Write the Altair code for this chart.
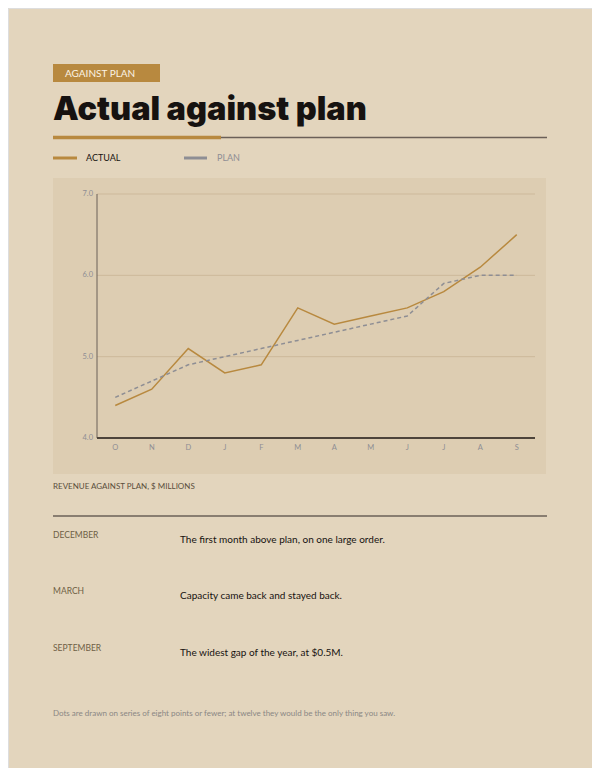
import altair as alt
import pandas as pd

months = ["Oct", "Nov", "Dec", "Jan", "Feb", "Mar", "Apr", "May", "Jun", "Jul", "Aug", "Sep"]
actual = [4.4, 4.6, 5.1, 4.8, 4.9, 5.6, 5.4, 5.5, 5.6, 5.8, 6.1, 6.5]
plan = [4.5, 4.7, 4.9, 5.0, 5.1, 5.2, 5.3, 5.4, 5.5, 5.9, 6.0, 6.0]
y_ticks = [4, 5, 6, 7]
notes_month = ["DECEMBER", "MARCH", "SEPTEMBER"]
notes_text = [
    "The first month above plan, on one large order.",
    "Capacity came back and stayed back.",
    "The widest gap of the year, at $0.5M.",
]

BG = "#e3d5bd"
PANEL = "#ddcdb2"
GOLD = "#b8893f"
GREY = "#8e8e94"
DARK = "#6b6058"
INK = "#161210"
SANS = "Lato"

OX, OY = 8, 8  # page margin offset


def px(x):
    return x - OX


def py(y):
    return y - OY


one = alt.Data(values=[{}])

df = pd.DataFrame({
    "month": months * 2,
    "value": actual + plan,
    "series": ["Actual"] * len(months) + ["Plan"] * len(months),
})
ticks_df = pd.DataFrame({"v": y_ticks})
months_df = pd.DataFrame({"month": months})

xscale = alt.Scale(type="point", domain=months, range=[px(97), px(535)], padding=0.5)
yscale = alt.Scale(domain=[4, 7], range=[py(438), py(194)], nice=False, zero=False)

panel = alt.Chart(one).mark_rect(color=PANEL).encode(
    x=alt.value(px(53)), x2=alt.value(px(546)), y=alt.value(py(178)), y2=alt.value(py(474))
)

grid = alt.Chart(ticks_df).transform_filter(alt.datum.v > 4).mark_rule(
    color="#cdb99b", strokeWidth=1
).encode(
    y=alt.Y("v:Q", scale=yscale, axis=None),
    x=alt.value(px(97)), x2=alt.value(px(535)),
)

ylabels = alt.Chart(ticks_df).mark_text(
    align="right", baseline="middle", fontSize=7.5, color=GREY, font=SANS
).encode(
    y=alt.Y("v:Q", scale=yscale, axis=None),
    x=alt.value(px(93)),
    text=alt.Text("v:Q", format=".1f"),
)

xlabels = alt.Chart(months_df).transform_calculate(
    initial="substring(datum.month, 0, 1)"
).mark_text(
    align="center", baseline="middle", fontSize=7.5, color=GREY, font=SANS
).encode(
    x=alt.X("month:N", scale=xscale, sort=months, axis=None),
    y=alt.value(py(448)),
    text="initial:N",
)

base = alt.Chart(df)

actual_line = base.transform_filter(alt.datum.series == "Actual").mark_line(
    color=GOLD, strokeWidth=1.5
).encode(
    x=alt.X("month:N", scale=xscale, sort=months, axis=None),
    y=alt.Y("value:Q", scale=yscale, axis=None),
)

plan_line = base.transform_filter(alt.datum.series == "Plan").mark_line(
    color=GREY, strokeWidth=1.5, strokeDash=[4, 3]
).encode(
    x=alt.X("month:N", scale=xscale, sort=months, axis=None),
    y=alt.Y("value:Q", scale=yscale, axis=None),
)


def rule(x1, x2, y, color, width):
    return alt.Chart(one).mark_rule(color=color, strokeWidth=width).encode(
        x=alt.value(px(x1)), x2=alt.value(px(x2)), y=alt.value(py(y))
    )


def vrule(x, y1, y2, color, width):
    return alt.Chart(one).mark_rule(color=color, strokeWidth=width).encode(
        x=alt.value(px(x)), y=alt.value(py(y1)), y2=alt.value(py(y2))
    )


def text(s, x, y, size, color, weight="normal", font=SANS, baseline="middle"):
    return alt.Chart(one).mark_text(
        text=s, align="left", baseline=baseline, fontSize=size, color=color, fontWeight=weight, font=font
    ).encode(x=alt.value(px(x)), y=alt.value(py(y)))


tag_box = alt.Chart(one).mark_rect(color=GOLD).encode(
    x=alt.value(px(53)), x2=alt.value(px(160)), y=alt.value(py(64)), y2=alt.value(py(82))
)

layers = [
    panel,
    tag_box,
    text("AGAINST PLAN", 65, 73.5, 10, "#fbf3e4"),
    text("Actual against plan", 53, 120, 32.5, INK, weight=900, font="Inter", baseline="alphabetic"),
    rule(221, 547, 137.5, DARK, 1.5),
    rule(53, 221, 137.5, GOLD, 3.5),
    rule(53, 77, 158, GOLD, 3),
    text("ACTUAL", 86, 158, 9, INK),
    rule(184, 207, 158, GREY, 3),
    text("PLAN", 217, 158, 9, GREY),
    grid,
    vrule(97, 194, 438, DARK, 1),
    rule(97, 535, 438, "#4d443b", 2),
    ylabels,
    xlabels,
    actual_line,
    plan_line,
    text("REVENUE AGAINST PLAN, $ MILLIONS", 53, 486.5, 8, "#5a4e3c"),
    rule(53, 547, 516, DARK, 1.5),
]

label_y = [535, 591, 648]
for m, t, yy in zip(notes_month, notes_text, label_y):
    layers.append(text(m, 53, yy, 8.5, "#6e5f45"))
    layers.append(text(t, 180, yy + 5, 10, INK))

layers.append(text(
    "Dots are drawn on series of eight points or fewer; at twelve they would be the only thing you saw.",
    53, 714, 8, "#8a8784"))

chart = alt.layer(*layers).properties(
    width=584, height=760, background=BG, padding=0,
    autosize=alt.AutoSizeParams(type="none"),
).configure_view(stroke=None).configure(font=SANS)

chart.save("out.html", embed_options={"renderer": "svg", "actions": False})
